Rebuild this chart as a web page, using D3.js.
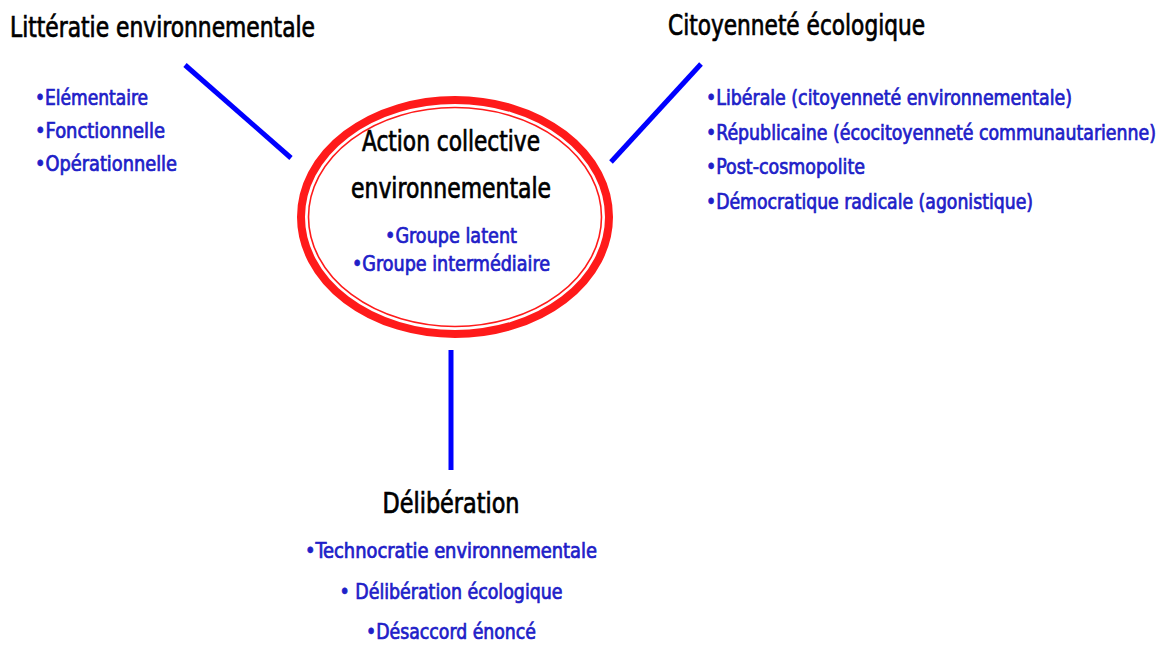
<!DOCTYPE html>
<html>
<head>
<meta charset="utf-8">
<script src="https://cdn.jsdelivr.net/npm/d3@7"></script>
<style>
  html, body { margin: 0; padding: 0; background: #fff; }
  svg text { font-family: "Liberation Sans Narrow", "DejaVu Sans Condensed", "Open Sans", sans-serif; }
</style>
</head>
<body>
<svg id="chart" width="1168" height="648"></svg>
<script>
// diagram content
var centerTitle = ["Action collective", "environnementale"];
var centerItems = ["•Groupe latent", "•Groupe intermédiaire"];
var leftTitle = "Littératie environnementale";
var leftItems = ["•Elémentaire", "•Fonctionnelle", "•Opérationnelle"];
var rightTitle = "Citoyenneté écologique";
var rightItems = ["•Libérale (citoyenneté environnementale)", "•Républicaine (écocitoyenneté communautarienne)", "•Post-cosmopolite", "•Démocratique radicale (agonistique)"];
var bottomTitle = "Délibération";
var bottomItems = ["•Technocratie environnementale", "• Délibération écologique", "•Désaccord énoncé"];

// layout (pixel positions, measured on the page)
var svg = d3.select('#chart');
var ink = '#000', blue = '#2020c8', red = '#ff1a1a', lineBlue = '#0000ff';

function label(x, y, str, size, color, width, anchor){
    var t = svg.append('text')
        .attr('x', x).attr('y', y)
        .attr('font-size', size)
        .attr('fill', color)
        .attr('stroke', color)
        .attr('stroke-width', 0.7)
        .attr('text-anchor', anchor || 'start')
        .text(str);
    if (width) t.attr('textLength', width).attr('lengthAdjust', 'spacingAndGlyphs');
    return t;
}

// connectors
var connectors = [
    {x1:185, y1:65, x2:291, y2:158},
    {x1:701, y1:64, x2:611, y2:162},
    {x1:451, y1:350, x2:451, y2:470}
];
svg.selectAll('line.conn').data(connectors).enter().append('line')
    .attr('class', 'conn')
    .attr('x1', function(d){return d.x1}).attr('y1', function(d){return d.y1})
    .attr('x2', function(d){return d.x2}).attr('y2', function(d){return d.y2})
    .attr('stroke', lineBlue).attr('stroke-width', 5);

// central ellipse: thick outer ring + thin inner ring
var cx = 455, cy = 217, rx = 154, ry = 117;
svg.append('ellipse').attr('cx', cx).attr('cy', cy).attr('rx', rx).attr('ry', ry)
    .attr('fill', '#fff').attr('stroke', red).attr('stroke-width', 8);
svg.append('ellipse').attr('cx', cx).attr('cy', cy).attr('rx', rx - 7.5).attr('ry', ry - 7.5)
    .attr('fill', 'none').attr('stroke', red).attr('stroke-width', 1.6);

// center text
var cTitleW = [178, 200];
centerTitle.forEach(function(s, i){
    label(451, 151 + i*47, s, 28, ink, cTitleW[i], 'middle');
});
var cItemW = [132, 198];
centerItems.forEach(function(s, i){
    label(451, 243 + i*28, s, 21, blue, cItemW[i], 'middle');
});

// left block
label(10, 37, leftTitle, 28, ink, 305);
var lW = [113, 130, 142];
leftItems.forEach(function(s, i){
    label(35, 105 + i*33, s, 21, blue, lW[i]);
});

// right block
label(668, 35, rightTitle, 28, ink, 257);
var rW = [366, 450, 159, 327];
rightItems.forEach(function(s, i){
    label(706, 105 + i*34.5, s, 21, blue, rW[i]);
});

// bottom block
label(451, 513, bottomTitle, 28, ink, 137, 'middle');
var bW = [292, 223, 170];
bottomItems.forEach(function(s, i){
    label(451, 558 + i*40.5, s, 21, blue, bW[i], 'middle');
});
</script>
</body>
</html>
